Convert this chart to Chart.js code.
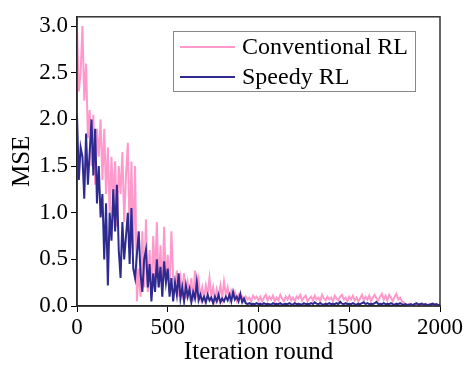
<!DOCTYPE html>
<html>
<head>
<meta charset="utf-8">
<script src="https://cdn.jsdelivr.net/npm/chart.js@4/dist/chart.umd.min.js"></script>
<style>
  html, body { margin: 0; padding: 0; background: #fff; }
  #wrap { width: 467px; height: 367px; }
</style>
</head>
<body>
<div id="wrap"><canvas id="myChart" width="467" height="367"></canvas></div>
<script>
// one value every 10 iterations, 0..2000
var iterStep = 10;

var conventional = [
    3.0, 2.3, 2.5, 3.0, 2.2, 2.6, 1.8, 2.1, 1.5, 2.05,
    1.3, 1.9, 1.6, 2.0, 1.35, 1.9, 1.2, 1.7, 1.0, 1.6,
    1.1, 1.55, 0.85, 1.5, 1.2, 1.65, 0.9, 1.4, 1.75, 0.75,
    1.55, 0.6, 1.5, 0.05, 0.4, 0.1, 0.8, 0.2, 0.93, 0.15,
    0.6, 0.1, 0.75, 0.3, 0.9, 0.2, 0.65, 0.1, 0.85, 0.25,
    0.55, 0.15, 0.8, 0.3, 0.2, 0.38, 0.1, 0.3, 0.15, 0.35,
    0.08, 0.25, 0.12, 0.3, 0.05, 0.38, 0.15, 0.28, 0.1, 0.2,
    0.08, 0.22, 0.12, 0.3, 0.1, 0.2, 0.06, 0.18, 0.1, 0.22,
    0.08, 0.26, 0.12, 0.2, 0.07, 0.16, 0.1, 0.15, 0.06, 0.12,
    0.08, 0.1, 0.05, 0.1, 0.07, 0.09, 0.05, 0.11, 0.08, 0.1,
    0.06, 0.1, 0.05, 0.09, 0.12, 0.06, 0.1, 0.07, 0.11, 0.05,
    0.09, 0.06, 0.12, 0.08, 0.05, 0.1, 0.07, 0.11, 0.06, 0.09,
    0.05, 0.1, 0.08, 0.12, 0.06, 0.09, 0.11, 0.05, 0.08, 0.1,
    0.06, 0.11, 0.07, 0.09, 0.05, 0.12, 0.08, 0.06, 0.1, 0.07,
    0.09, 0.05, 0.11, 0.08, 0.06, 0.1, 0.12, 0.07, 0.09, 0.05,
    0.1, 0.07, 0.11, 0.06, 0.09, 0.05, 0.08, 0.12, 0.06, 0.1,
    0.07, 0.11, 0.05, 0.09, 0.12, 0.08, 0.06, 0.1, 0.13, 0.07,
    0.11, 0.06, 0.12, 0.09, 0.05, 0.1, 0.13, 0.07, 0.09, 0.05,
    0.04, 0.02, 0.015, 0.02, 0.01, 0.015, 0.02, 0.01, 0.015, 0.02,
    0.01, 0.015, 0.02, 0.01, 0.015, 0.02, 0.01, 0.015, 0.02, 0.01,
    0.015
];

var speedy = [
    2.05, 1.35, 1.7, 1.6, 1.15, 1.85, 1.3, 1.65, 2.0, 1.4,
    1.9, 1.1, 1.5, 0.95, 1.2, 0.5, 1.1, 0.22, 1.0, 0.7,
    1.25, 0.8, 1.3, 0.6, 0.3, 0.9, 0.5, 0.75, 1.0, 0.45,
    1.05, 0.4, 0.3, 0.55, 0.8, 0.35, 0.15, 0.5, 0.6, 0.2,
    0.45, 0.05, 0.35, 0.15, 0.5, 0.2, 0.42, 0.1, 0.48, 0.25,
    0.4, 0.1, 0.3, 0.05, 0.25, 0.12, 0.35, 0.08, 0.2, 0.05,
    0.22, 0.1, 0.18, 0.04, 0.15, 0.08, 0.26, 0.06, 0.12, 0.05,
    0.1, 0.04, 0.12, 0.06, 0.09, 0.03, 0.1, 0.05, 0.12, 0.04,
    0.08, 0.05, 0.1, 0.06, 0.12, 0.05, 0.15, 0.07, 0.1, 0.05,
    0.13, 0.04, 0.08, 0.03, 0.02, 0.03, 0.02, 0.025, 0.02, 0.03,
    0.02, 0.025, 0.015, 0.03, 0.02, 0.025, 0.02, 0.015, 0.03, 0.02,
    0.025, 0.02, 0.03, 0.015, 0.02, 0.025, 0.02, 0.03, 0.02, 0.015,
    0.03, 0.02, 0.025, 0.02, 0.015, 0.03, 0.02, 0.025, 0.02, 0.03,
    0.02, 0.04, 0.025, 0.02, 0.03, 0.02, 0.015, 0.025, 0.02, 0.03,
    0.02, 0.025, 0.02, 0.03, 0.02, 0.045, 0.025, 0.02, 0.03, 0.02,
    0.025, 0.02, 0.03, 0.02, 0.015, 0.025, 0.02, 0.03, 0.04, 0.02,
    0.03, 0.02, 0.025, 0.02, 0.03, 0.045, 0.02, 0.025, 0.02, 0.03,
    0.02, 0.025, 0.02, 0.03, 0.02, 0.015, 0.025, 0.02, 0.03, 0.02,
    0.015, 0.02, 0.01, 0.015, 0.02, 0.01, 0.02, 0.03, 0.015, 0.02,
    0.025, 0.015, 0.02, 0.01, 0.015, 0.02, 0.025, 0.015, 0.02, 0.01,
    0.015
];

var xTicks = [0, 500, 1000, 1500, 2000];
var yTicks = [0.0, 0.5, 1.0, 1.5, 2.0, 2.5, 3.0];
var seriesNames = ['Conventional RL', 'Speedy RL'];
var colors = ['#ff99cc', '#2e2a8f'];

function toPoints(arr) {
    return arr.map((v, i) => ({ x: i * iterStep, y: v }));
}

var serif = "'Liberation Serif', 'Times New Roman', serif";

// frame round the plot and the boxed legend in the top right
var framePlugin = {
    id: 'frame',
    afterDraw(chart) {
        var c = chart.ctx, a = chart.chartArea;
        c.save();
        c.strokeStyle = '#333';
        c.lineWidth = 1.5;
        c.strokeRect(a.left, a.top, a.right - a.left, a.bottom - a.top);

        var bx = 173, by = 31, bw = 242, bh = 60;
        c.fillStyle = '#fff';
        c.fillRect(bx, by, bw, bh);
        c.strokeStyle = '#888';
        c.lineWidth = 1;
        c.strokeRect(bx + 0.5, by + 0.5, bw, bh);

        c.font = '24px ' + serif;
        c.textBaseline = 'alphabetic';
        c.fillStyle = '#000';
        var rows = [47, 77];
        seriesNames.forEach((name, i) => {
            c.strokeStyle = colors[i];
            c.lineWidth = 2;
            c.beginPath();
            c.moveTo(180, rows[i]);
            c.lineTo(235, rows[i]);
            c.stroke();
            c.fillText(name, 242, rows[i] + 7);
        });
        c.restore();
    }
};

var ctx = document.getElementById('myChart').getContext('2d');
var myChart = new Chart(ctx, {
    type: 'line',
    data: {
        datasets: [{
            label: seriesNames[0],
            data: toPoints(conventional),
            borderColor: colors[0],
            borderWidth: 2,
            pointRadius: 0,
            tension: 0,
            order: 1
        }, {
            label: seriesNames[1],
            data: toPoints(speedy),
            borderColor: colors[1],
            borderWidth: 2,
            pointRadius: 0,
            tension: 0,
            order: 0
        }]
    },
    options: {
        responsive: false,
        animation: false,
        layout: { padding: { top: 14, right: 27, left: 0, bottom: 0 } },
        plugins: {
            legend: { display: false },
            tooltip: { enabled: false }
        },
        scales: {
            x: {
                type: 'linear',
                min: 0,
                max: 2000,
                afterBuildTicks: s => { s.ticks = xTicks.map(v => ({ value: v })); },
                afterFit: s => { s.height = 61; },
                ticks: {
                    color: '#000',
                    font: { family: serif, size: 23 },
                    padding: 2,
                    maxRotation: 0,
                    callback: v => String(v)
                },
                grid: {
                    drawOnChartArea: false,
                    drawTicks: true,
                    tickLength: 6,
                    color: '#000'
                },
                border: { color: '#000', width: 1.5 },
                title: {
                    display: true,
                    text: 'Iteration round',
                    color: '#000',
                    font: { family: serif, size: 25 },
                    padding: { top: 6, bottom: 0 }
                }
            },
            y: {
                min: 0,
                max: 3.1,
                afterBuildTicks: s => { s.ticks = yTicks.map(v => ({ value: v })); },
                afterFit: s => { s.width = 77; },
                ticks: {
                    color: '#000',
                    font: { family: serif, size: 23 },
                    padding: 3,
                    callback: v => v.toFixed(1)
                },
                grid: {
                    drawOnChartArea: false,
                    drawTicks: true,
                    tickLength: 6,
                    color: '#000'
                },
                border: { color: '#000', width: 1.5 },
                title: {
                    display: true,
                    text: 'MSE',
                    color: '#000',
                    font: { family: serif, size: 25 },
                    padding: { top: 7, bottom: 0 }
                }
            }
        }
    },
    plugins: [framePlugin]
});
</script>
</body>
</html>
